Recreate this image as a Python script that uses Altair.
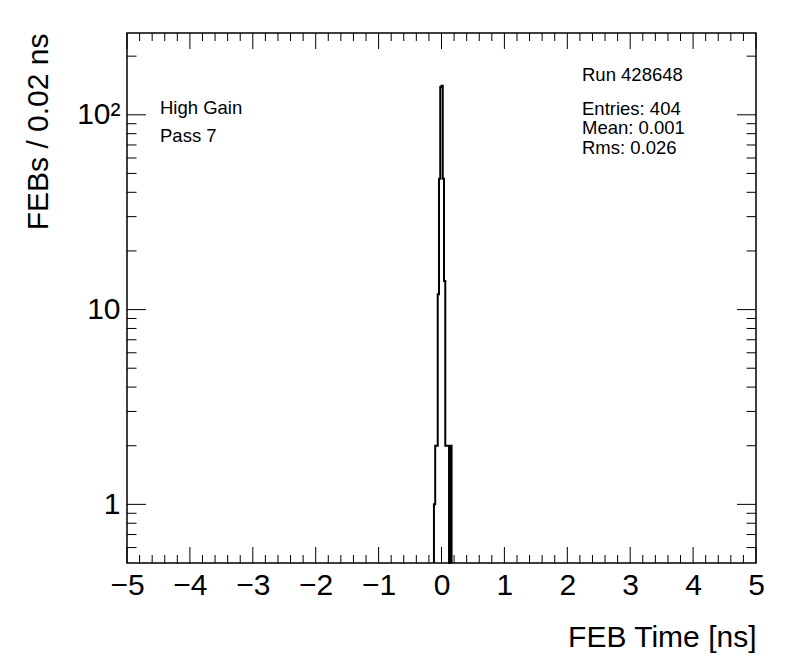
import altair as alt
import pandas as pd

# ---- data ----
bin_width = 0.02
bin_lo = [-0.12, -0.10, -0.08, -0.06, -0.04, -0.02, 0.00, 0.02, 0.04, 0.06, 0.08, 0.10, 0.12, 0.14]
counts = [1, 2, 2, 12, 47, 139, 141, 47, 14, 2, 2, 2, 0, 2]

x_major = [-5, -4, -3, -2, -1, 0, 1, 2, 3, 4, 5]
x_minor = [round(-5 + 0.2 * k, 2) for k in range(51) if k % 5 != 0]
y_major = [1, 10, 100]
y_minor = [0.6, 0.7, 0.8, 0.9, 2, 3, 4, 5, 6, 7, 8, 9, 20, 30, 40, 50, 60, 70, 80, 90, 200]

y_floor = 0.5
y_top = 263

W, H = 629, 530

# step outline of the histogram
pts = []
pts.append((bin_lo[0], y_floor))
for lo, c in zip(bin_lo, counts):
    v = c if c > 0 else y_floor
    pts.append((lo, v))
    pts.append((round(lo + bin_width, 4), v))
pts.append((round(bin_lo[-1] + bin_width, 4), y_floor))
hist = pd.DataFrame({"x": [p[0] for p in pts], "y": [p[1] for p in pts], "i": list(range(len(pts)))})

xs = alt.Scale(domain=[-5, 5], nice=False, zero=False)
ys = alt.Scale(type="log", domain=[y_floor, y_top], nice=False)

FONT = "Liberation Sans"

xaxis = alt.Axis(
    values=x_major, ticks=False, tickSize=0, domain=False, grid=False,
    labelFontSize=30, labelPadding=7, labelColor="black", labelFont=FONT,
    labelFlush=False, labelOverlap=False,
    title="FEB Time [ns]", titleFontSize=30, titleFontWeight="normal", titleFont=FONT,
    titleColor="black", titleAnchor="end", titleAlign="right", titleBaseline="alphabetic",
    titleX=W, titleY=83)
yaxis = alt.Axis(
    values=y_major, ticks=False, tickSize=0, domain=False, grid=False,
    labelFontSize=30, labelPadding=7, labelColor="black", labelFont=FONT,
    labelFlush=False, labelOverlap=False,
    labelExpr="datum.value == 100 ? '10²' : datum.label",
    title="FEBs / 0.02 ns", titleFontSize=30, titleFontWeight="normal", titleFont=FONT,
    titleColor="black", titleAngle=-90, titleAlign="right", titleBaseline="alphabetic",
    titleX=-80, titleY=0)

line = alt.Chart(hist).mark_line(color="black", strokeWidth=2).encode(
    x=alt.X("x:Q", scale=xs, axis=xaxis),
    y=alt.Y("y:Q", scale=ys, axis=yaxis),
    order="i:Q",
)

xmaj = pd.DataFrame({"v": x_major})
xmin = pd.DataFrame({"v": x_minor})
ymaj = pd.DataFrame({"v": y_major})
ymin = pd.DataFrame({"v": y_minor})

def xticks(df, length):
    b = alt.Chart(df).mark_rule(color="black", strokeWidth=1).encode(
        x=alt.X("v:Q", scale=xs, axis=xaxis), y=alt.value(H), y2=alt.value(H - length))
    t = alt.Chart(df).mark_rule(color="black", strokeWidth=1).encode(
        x=alt.X("v:Q", scale=xs, axis=xaxis), y=alt.value(0), y2=alt.value(length))
    return [b, t]

def yticks(df, length):
    l = alt.Chart(df).mark_rule(color="black", strokeWidth=1).encode(
        y=alt.Y("v:Q", scale=ys, axis=yaxis), x=alt.value(0), x2=alt.value(length))
    r = alt.Chart(df).mark_rule(color="black", strokeWidth=1).encode(
        y=alt.Y("v:Q", scale=ys, axis=yaxis), x=alt.value(W), x2=alt.value(W - length))
    return [l, r]

left_text = ["High Gain", "Pass 7"]
right_text = ["Run 428648", "Entries: 404", "Mean: 0.001", "Rms: 0.026"]

def label(txt, px, py):
    return alt.Chart(pd.DataFrame({"t": [txt]})).mark_text(
        align="left", baseline="alphabetic", fontSize=18.5, font=FONT, color="black"
    ).encode(text="t:N", x=alt.value(px), y=alt.value(py))

texts = [
    label(left_text[0], 33, 81),
    label(left_text[1], 33, 109),
    label(right_text[0], 455, 48),
    label(right_text[1], 455, 82),
    label(right_text[2], 455, 101),
    label(right_text[3], 455, 120.5),
]

layers = [line] + xticks(xmaj, 16) + xticks(xmin, 8) + yticks(ymaj, 19) + yticks(ymin, 9.5) + texts

chart = alt.layer(*layers).properties(
    width=W, height=H,
    padding={"left": 119, "top": 25, "right": 25, "bottom": 90},
    autosize=alt.AutoSizeParams(type="none"),
    background="white",
).configure_view(stroke="black", strokeWidth=1.5)

chart.save("out.html", embed_options={"renderer": "svg", "actions": False})
